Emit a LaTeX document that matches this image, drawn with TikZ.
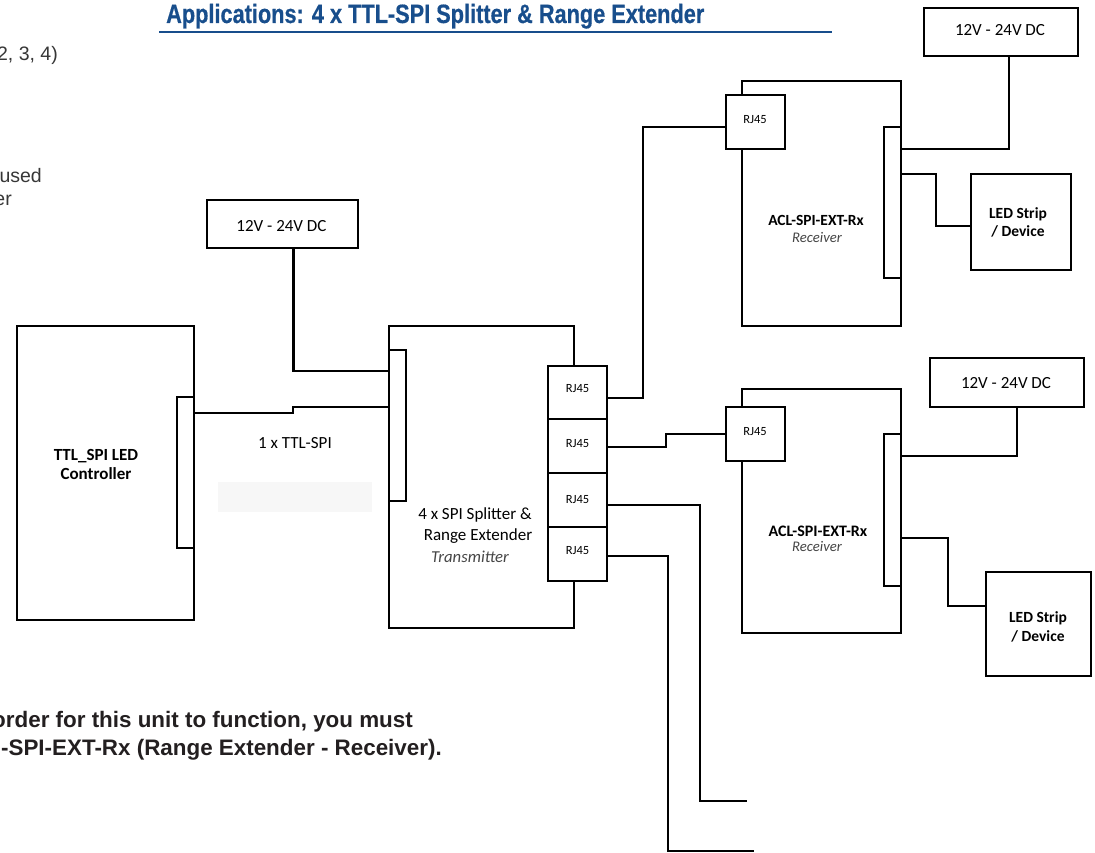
\documentclass[tikz,border=0pt]{standalone}
\usepackage{fontspec}
\setmainfont{Carlito}
\newfontfamily\helv{Liberation Sans}
\newfontfamily\helvtitle[FakeBold=0.6]{Liberation Sans Bold}
\usetikzlibrary{calc}
\definecolor{titleblue}{RGB}{24,78,140}
\definecolor{notegray}{RGB}{35,31,32}
\definecolor{pagegray}{RGB}{55,55,55}
\definecolor{subgray}{RGB}{70,70,70}
\begin{document}
\begin{tikzpicture}[x=1pt,y=-1pt,
  box/.style={draw=black,fill=white,line width=2.2pt,inner sep=0pt,outer sep=0pt,rectangle},
  wire/.style={draw=black,line width=2.2pt,line join=miter},
  txt/.style={inner sep=0pt,outer sep=0pt,align=center,font=\fontsize{17}{19}\selectfont},
  btxt/.style={txt,font=\fontsize{17}{19}\selectfont\bfseries},
  rjtxt/.style={inner sep=0pt,font=\fontsize{12.5}{14}\selectfont},
  ledtxt/.style={txt,font=\fontsize{15.5}{18}\selectfont\bfseries},
  rxtxt/.style={inner sep=0pt,font=\fontsize{16}{18}\selectfont\bfseries},
  subtxt/.style={inner sep=0pt,text=subgray,font=\fontsize{14.7}{17}\selectfont\itshape},
  pagetxt/.style={inner sep=0pt,anchor=base east,text=pagegray,font=\helv\fontsize{19.5}{23}\selectfont},
  notetxt/.style={inner sep=0pt,anchor=base east,text=notegray,font=\helv\bfseries\fontsize{22.4}{26}\selectfont}
]
\useasboundingbox (0,0) rectangle (1095,853);
\fill[white] (0,0) rectangle (1095,853);

% title
\node[inner sep=0pt,anchor=base west,text=titleblue,font=\helvtitle\fontsize{26.5}{30}\selectfont] (title) at (166,23) {\scalebox{0.82}[1]{Applications: 4 x TTL-SPI Splitter \& Range Extender}};
\coordinate (ulA) at (159,32);
\coordinate (ulB) at (832,32);
\draw[titleblue,line width=1.8pt] (ulA) -- (ulB);

% page text fragments
\node[pagetxt] (p1) at (58,61) {2, 3, 4)};
\node[pagetxt] (p2) at (42,183) {used};
\node[pagetxt] (p3) at (12,206) {er};
\node[notetxt] (n1) at (413,727) {order for this unit to function, you must};
\node[notetxt] (n2) at (442,755) {-SPI-EXT-Rx (Range Extender - Receiver).};

% faint shading under label
\node[fill=black!3,minimum width=154pt,minimum height=30pt,inner sep=0pt] (shade) at (295,497) {};

% controller
\node[box,minimum width=177pt,minimum height=294pt] (ctrl) at (105.5,473) {};
\node[box,minimum width=17pt,minimum height=151pt] (ctrlstrip) at (185.5,472.5) {};
\node[btxt] (ctrltxt) at (96,464.5) {TTL\_SPI LED\\Controller};

% power supply 1
\node[box,minimum width=151pt,minimum height=48pt] (psu1) at (282.5,224) {};
\node[txt] (psu1txt) at (281.5,226) {12V - 24V DC};

% splitter
\node[box,minimum width=185pt,minimum height=302pt] (split) at (481.5,477) {};
\node[box,minimum width=17pt,minimum height=151pt] (splitstrip) at (397.5,425.5) {};
\node[box,minimum width=59pt,minimum height=53pt] (rj1) at (577.5,392.5) {};
\node[box,minimum width=59pt,minimum height=54pt] (rj2) at (577.5,446) {};
\node[box,minimum width=59pt,minimum height=54pt] (rj3) at (577.5,500) {};
\node[box,minimum width=59pt,minimum height=54pt] (rj4) at (577.5,554) {};
\node[rjtxt] (rj1txt) at (577.5,389) {RJ45};
\node[rjtxt] (rj2txt) at (577.5,444) {RJ45};
\node[rjtxt] (rj3txt) at (577.5,500) {RJ45};
\node[rjtxt] (rj4txt) at (577.5,551) {RJ45};
\node[txt] (splittxtA) at (475,515) {4 x SPI Splitter \&};
\node[txt] (splittxtB) at (478,536) {Range Extender};
\node[txt,font=\fontsize{16.7}{19}\selectfont\itshape,text=subgray] (splittxtC) at (470,557) {Transmitter};

% label
\node[txt] (lbl) at (295,443) {1 x TTL-SPI};

% receiver 1
\node[box,minimum width=159pt,minimum height=245pt] (rx1) at (821.5,203.5) {};
\node[box,minimum width=59pt,minimum height=54pt] (rx1rj) at (755.5,122) {};
\node[rjtxt] (rx1rjtxt) at (755,120) {RJ45};
\node[box,minimum width=17pt,minimum height=151pt] (rx1strip) at (892.5,202.5) {};
\node[rxtxt,font=\fontsize{15.5}{18}\selectfont\bfseries] (rx1txt) at (816,220) {ACL-SPI-EXT-Rx};
\node[subtxt] (rx1sub) at (817,237) {Receiver};
\node[box,minimum width=154pt,minimum height=48pt] (psu2) at (1001,32) {};
\node[txt] (psu2txt) at (1000,30) {12V - 24V DC};
\node[box,minimum width=100pt,minimum height=96pt] (led1) at (1021,222) {};
\node[ledtxt] (led1txt) at (1018,222) {LED Strip\\/ Device};

% receiver 2
\node[box,minimum width=159pt,minimum height=244pt] (rx2) at (821.5,511) {};
\node[box,minimum width=59pt,minimum height=54pt] (rx2rj) at (755.5,434) {};
\node[rjtxt] (rx2rjtxt) at (755,432) {RJ45};
\node[box,minimum width=17pt,minimum height=152pt] (rx2strip) at (892.5,510) {};
\node[rxtxt] (rx2txt) at (818,531) {ACL-SPI-EXT-Rx};
\node[subtxt] (rx2sub) at (817,546) {Receiver};
\node[box,minimum width=154pt,minimum height=49pt] (psu3) at (1007,382.5) {};
\node[txt] (psu3txt) at (1006,383) {12V - 24V DC};
\node[box,minimum width=105pt,minimum height=104pt] (led2) at (1038.5,624) {};
\node[ledtxt,font=\fontsize{15.5}{19}\selectfont\bfseries] (led2txt) at (1038,626.5) {LED Strip\\/ Device};

% free ends
\coordinate (end3) at (747,801);
\coordinate (end4) at (754,851);

% connectors
\draw[wire] ($(ctrlstrip.east)+(0,-59.5)$) -- ++(99,0) -- ++(0,-6) -- ($(splitstrip.west)+(0,-18.5)$);
\draw[wire] ($(psu1.south)+(11,0)$) |- ($(splitstrip.west)+(0,-54.5)$);
\draw[wire] ($(rj1.east)+(0,5.5)$) -- ++(36,0) |- ($(rx1rj.west)+(0,5)$);
\draw[wire] ($(rj2.east)+(0,1)$) -- ++(59,0) |- (rx2rj.west);
\draw[wire] ($(rj3.east)+(0,5)$) -| ($(end3)+(-47,0)$) -- (end3);
\draw[wire] ($(rj4.east)+(0,2)$) -| ($(end4)+(-86,0)$) -- (end4);
\draw[wire] ($(rx1strip.east)+(0,-53.5)$) -| ($(psu2.south)+(8,0)$);
\draw[wire] ($(rx1strip.east)+(0,-28.5)$) -- ++(35,0) |- ($(led1.west)+(0,4)$);
\draw[wire] ($(rx2strip.east)+(0,-54)$) -| ($(psu3.south)+(10,0)$);
\draw[wire] ($(rx2strip.east)+(0,28)$) -- ++(47,0) |- ($(led2.west)+(0,-18)$);
\end{tikzpicture}
\end{document}
